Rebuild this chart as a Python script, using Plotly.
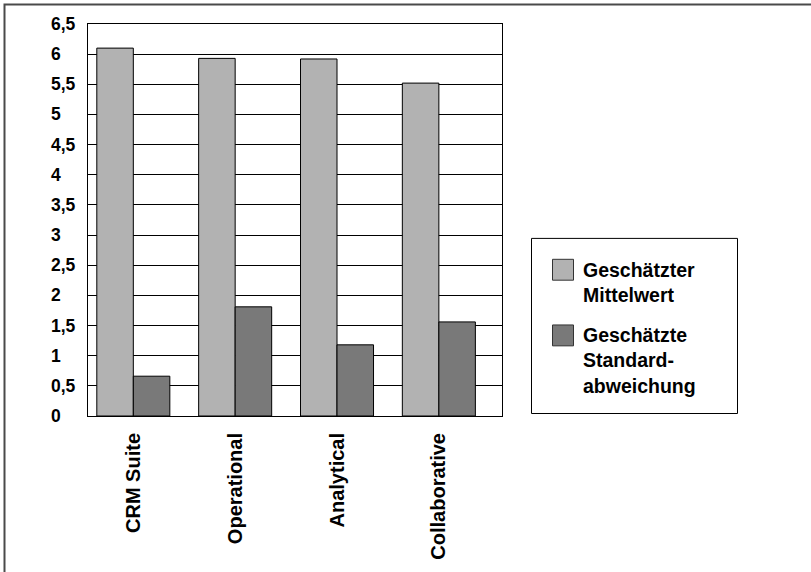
import plotly.graph_objects as go

# --- data -------------------------------------------------------------
categories = ["CRM Suite", "Operational", "Analytical", "Collaborative"]
mean_values = [6.10, 5.93, 5.92, 5.52]
std_values = [0.66, 1.81, 1.18, 1.56]
series_names = ["Geschätzter<br>Mittelwert", "Geschätzte<br>Standard-<br>abweichung"]
tick_values = [0, 0.5, 1, 1.5, 2, 2.5, 3, 3.5, 4, 4.5, 5, 5.5, 6, 6.5]
tick_labels = [f"{v:g}".replace(".", ",") for v in tick_values]

# --- styling ----------------------------------------------------------
W, H = 811, 572
PL, PR, PT, PB = 88, 502, 24, 418          # plot area in pixels
LIGHT = "#b2b2b2"
DARK = "#797979"
FONT = "Liberation Sans, Arial, sans-serif"


def px_x(p):
    return (p - PL) / (PR - PL)


def px_y(p):
    return (PB - p) / (PB - PT)


fig = go.Figure()
fig.add_trace(go.Bar(x=categories, y=mean_values, name=series_names[0],
                     marker=dict(color=LIGHT, line=dict(color="#000000", width=1)),
                     showlegend=False))
fig.add_trace(go.Bar(x=categories, y=std_values, name=series_names[1],
                     marker=dict(color=DARK, line=dict(color="#000000", width=1)),
                     showlegend=False))

shapes = [
    # outer frame (only top/left edges fall inside the page)
    dict(type="rect", xref="paper", yref="paper",
         x0=px_x(4.5), x1=px_x(W + 10), y0=px_y(H + 10), y1=px_y(4.5),
         line=dict(color="#4a4a4a", width=2), fillcolor="rgba(0,0,0,0)", layer="below"),
    # legend box
    dict(type="rect", xref="paper", yref="paper",
         x0=px_x(531.5), x1=px_x(737.5), y0=px_y(415.5), y1=px_y(239.5),
         line=dict(color="#000000", width=1), fillcolor="white"),
]
annotations = []

# legend swatches + labels
swatch_tops = [260.5, 326.5]
text_tops = [258, 324]
for name, color, st, tt in zip(series_names, [LIGHT, DARK], swatch_tops, text_tops):
    shapes.append(dict(type="rect", xref="paper", yref="paper",
                       x0=px_x(552.5), x1=px_x(573.5), y0=px_y(st + 21), y1=px_y(st),
                       line=dict(color="#333333", width=1), fillcolor=color))
    annotations.append(dict(text=name, xref="paper", yref="paper",
                            x=px_x(581), y=px_y(tt), xanchor="left", yanchor="top",
                            align="left", showarrow=False,
                            font=dict(family=FONT, size=19.5, color="black", weight="bold")))

# y tick labels, left aligned
for v, lab in zip(tick_values, tick_labels):
    annotations.append(dict(text=lab, xref="paper", yref="y", x=px_x(48.5), y=v,
                            xanchor="left", yanchor="middle", showarrow=False,
                            font=dict(family=FONT, size=17.5, color="black", weight="bold")))

fig.update_layout(
    width=W, height=H,
    margin=dict(l=PL, r=W - PR, t=PT, b=H - PB, pad=0),
    paper_bgcolor="white", plot_bgcolor="white",
    barmode="group", bargap=0.283, bargroupgap=0,
    font=dict(family=FONT, color="black"),
    shapes=shapes, annotations=annotations,
    xaxis=dict(type="category", range=[-0.445, 3.62], showgrid=False,
               showline=True, linecolor="black", linewidth=1, mirror=True,
               ticks="", tickangle=-90, ticklabelstandoff=8,
               tickfont=dict(family=FONT, size=20, color="black", weight="bold")),
    yaxis=dict(range=[0, 6.5], tickvals=tick_values, showticklabels=False,
               showgrid=True, gridcolor="black", gridwidth=1,
               showline=True, linecolor="black", linewidth=1, mirror=True,
               ticks="", zeroline=False),
)

fig.write_html("out.html")
